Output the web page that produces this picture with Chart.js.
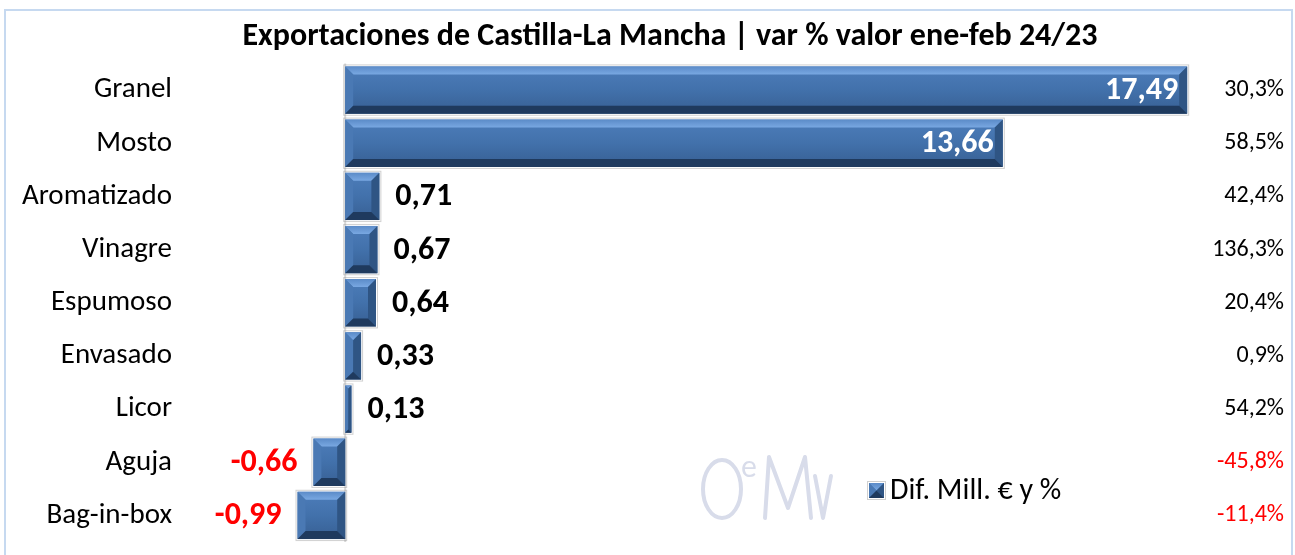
<!DOCTYPE html>
<html>
<head>
<meta charset="utf-8">
<script src="https://cdn.jsdelivr.net/npm/chart.js@4.4.1/dist/chart.umd.min.js"></script>
<style>
  body { margin: 0; background: #fff; overflow: hidden; }
  canvas { display: block; }
</style>
</head>
<body>
<canvas id="chart" width="1295" height="555"></canvas>
<script>
const categorias = ['Granel', 'Mosto', 'Aromatizado', 'Vinagre', 'Espumoso', 'Envasado', 'Licor', 'Aguja', 'Bag-in-box']
const difMill = [17.49, 13.66, 0.71, 0.67, 0.64, 0.33, 0.13, -0.66, -0.99]
const varPct = [30.3, 58.5, 42.4, 136.3, 20.4, 0.9, 54.2, -45.8, -11.4]
const titulo = 'Exportaciones de Castilla-La Mancha | var % valor ene-feb 24/23'
const leyenda = 'Dif. Mill. € y %'

const FONT = "Carlito, Lato, 'Noto Sans', sans-serif"

function fmt(v, d) {
    return v.toFixed(d).replace('.', ',')
}

// bevelled box like the excel "relieve" effect
function bevelBox(ctx, l, t, r, b) {
    let w = r - l, h = b - t
    let s = Math.min(8, w / 2, h / 2)
    let g = ctx.createLinearGradient(0, t, 0, b)
    g.addColorStop(0, '#4d7dba')
    g.addColorStop(0.5, '#4271ab')
    g.addColorStop(1, '#375f93')
    ctx.fillStyle = g
    ctx.fillRect(l, t, w, h)
    const poly = (pts, col) => {
        ctx.beginPath()
        ctx.moveTo(pts[0][0], pts[0][1])
        for (let i = 1; i < pts.length; i++) ctx.lineTo(pts[i][0], pts[i][1])
        ctx.closePath()
        ctx.fillStyle = col
        ctx.fill()
    }
    let gt = ctx.createLinearGradient(0, t, 0, t + s)
    gt.addColorStop(0, '#5b8bc8')
    gt.addColorStop(1, '#79a8e2')
    poly([[l, t], [r, t], [r - s, t + s], [l + s, t + s]], gt)
    poly([[l, t], [l + s, t + s], [l + s, b - s], [l, b]], '#4a79b4')
    poly([[r, t], [r, b], [r - s, b - s], [r - s, t + s]], '#2f5584')
    poly([[l, b], [l + s, b - s], [r - s, b - s], [r, b]], '#1f3a5e')
    ctx.strokeStyle = 'rgba(150,150,150,0.45)'
    ctx.lineWidth = 1
    ctx.strokeRect(l - 1.5, t - 1.5, w + 3, h + 3)
}

const marcoPlugin = {
    id: 'marco',
    beforeDraw(chart) {
        const ctx = chart.ctx
        ctx.save()
        ctx.strokeStyle = '#c6d9f0'
        ctx.lineWidth = 2
        ctx.strokeRect(5, 10, 1287, 560)

        // title
        ctx.fillStyle = '#000'
        ctx.font = 'bold 32px ' + FONT
        ctx.textAlign = 'center'
        ctx.textBaseline = 'middle'
        ctx.fillText(titulo, 670, 37)

        // OeMv watermark, thin strokes
        ctx.strokeStyle = '#d8dcea'
        ctx.lineWidth = 4
        ctx.lineCap = 'round'
        ctx.lineJoin = 'round'
        ctx.beginPath()
        ctx.ellipse(722, 489, 19, 29, 0, 0, Math.PI * 2)
        ctx.stroke()
        ctx.beginPath()
        ctx.moveTo(765, 518); ctx.lineTo(769, 457); ctx.lineTo(788, 508)
        ctx.lineTo(805, 457); ctx.lineTo(811, 518)
        ctx.stroke()
        ctx.beginPath()
        ctx.moveTo(815, 476); ctx.lineTo(823, 518); ctx.lineTo(831, 476)
        ctx.stroke()
        ctx.fillStyle = '#d8dcea'
        ctx.font = "30px Lato, sans-serif"
        ctx.textAlign = 'left'
        ctx.textBaseline = 'alphabetic'
        ctx.fillText('e', 741, 477)
        ctx.restore()
    },
    beforeDatasetsDraw(chart) {
        const ctx = chart.ctx
        const x0 = chart.scales.x.getPixelForValue(0)
        ctx.save()
        ctx.strokeStyle = '#d9d9d9'
        ctx.lineWidth = 2
        ctx.beginPath()
        ctx.moveTo(x0, chart.chartArea.top)
        ctx.lineTo(x0, chart.chartArea.bottom)
        ctx.stroke()
        ctx.restore()
    }
}

const barrasPlugin = {
    id: 'barras',
    afterDatasetsDraw(chart) {
        const ctx = chart.ctx
        const meta = chart.getDatasetMeta(0)
        ctx.save()
        meta.data.forEach((bar, i) => {
            const p = bar.getProps(['x', 'y', 'base', 'height'], true)
            let l = Math.min(p.x, p.base), r = Math.max(p.x, p.base)
            bevelBox(ctx, l, p.y - p.height / 2, r, p.y + p.height / 2)

            let v = difMill[i]
            ctx.font = 'bold 32px ' + FONT
            ctx.textBaseline = 'middle'
            if (v > 5) {
                ctx.fillStyle = '#ffffff'
                ctx.textAlign = 'right'
                ctx.fillText(fmt(v, 2), p.x - 9, p.y + 1)
            } else if (v >= 0) {
                ctx.fillStyle = '#000000'
                ctx.textAlign = 'left'
                ctx.fillText(fmt(v, 2), p.x + 16, p.y + 1)
            } else {
                ctx.fillStyle = '#ff0000'
                ctx.textAlign = 'right'
                ctx.fillText(fmt(v, 2), p.x - 16, p.y + 1)
            }

            let pc = varPct[i]
            ctx.font = '24px ' + FONT
            ctx.textAlign = 'right'
            ctx.fillStyle = pc < 0 ? '#ff0000' : '#000000'
            ctx.fillText(fmt(pc, 1) + '%', 1284, p.y)
        })

        // legend
        bevelBox(ctx, 869, 483, 884, 498)
        ctx.font = '30px ' + FONT
        ctx.fillStyle = '#000'
        ctx.textAlign = 'left'
        ctx.textBaseline = 'middle'
        ctx.fillText(leyenda, 890, 491)
        ctx.restore()
    }
}

const data = {
    labels: categorias,
    datasets: [{
        label: leyenda,
        data: difMill,
        backgroundColor: 'rgba(0,0,0,0)',
        borderWidth: 0,
        barPercentage: 0.89,
        categoryPercentage: 1
    }]
}

const config = {
    type: 'bar',
    data: data,
    options: {
        indexAxis: 'y',
        responsive: false,
        animation: false,
        layout: { padding: { top: 63.5, right: 0, bottom: 13, left: 0 } },
        scales: {
            x: {
                display: false,
                min: -3.39,
                max: 19.73
            },
            y: {
                grid: { display: false, drawTicks: false },
                border: { display: false },
                ticks: {
                    color: '#000',
                    padding: 10,
                    font: { family: FONT, size: 29 }
                },
                afterFit(axis) {
                    axis.width = 182
                    axis.paddingTop = 0
                    axis.paddingBottom = 0
                }
            }
        },
        plugins: {
            legend: { display: false },
            tooltip: { enabled: false },
            title: { display: false }
        }
    },
    plugins: [marcoPlugin, barrasPlugin]
}

let ctx = document.getElementById('chart').getContext('2d')
new Chart(ctx, config)
</script>
</body>
</html>
